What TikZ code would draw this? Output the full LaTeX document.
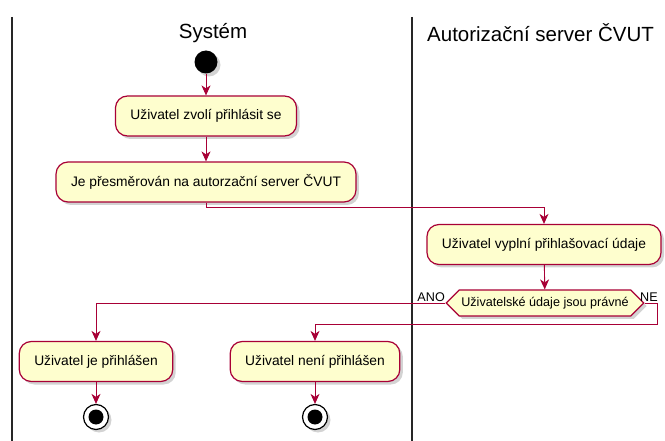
\documentclass[tikz,border=0pt]{standalone}
\usepackage{fontspec}
\setmainfont{Liberation Sans}
\usetikzlibrary{arrows.meta,shapes.symbols,shadows}
\definecolor{umlred}{HTML}{A80036}
\definecolor{umlfill}{HTML}{FEFECE}
\begin{document}
\begin{tikzpicture}[x=1pt,y=-1pt]
            \tikzstyle{every node}=[inner sep=0pt]
            \tikzstyle{lane}=[line width=1.5pt,black!85]
            \tikzstyle{title}=[font=\fontsize{20.5}{24}\selectfont]
            \tikzstyle{shade}=[drop shadow={opacity=0.35,shadow xshift=3pt,shadow yshift=-3pt}]
            \tikzstyle{action}=[draw=umlred,line width=1.2pt,fill=umlfill,rounded corners=12pt,
                inner xsep=15pt,minimum height=40pt,shade,font=\fontsize{13.8}{16}\selectfont]
            \tikzstyle{decision}=[draw=umlred,line width=1.2pt,fill=umlfill,shape=signal,
                signal to=west and east,signal pointer angle=90,minimum width=196pt,
                minimum height=26pt,inner xsep=2pt,shade,font=\fontsize{12.6}{14}\selectfont]
            \tikzstyle{lbl}=[font=\fontsize{12.6}{14}\selectfont]
            \tikzstyle{startnode}=[circle,fill=black,minimum size=23pt,shade]
            \tikzstyle{stopnode}=[circle,draw=black,line width=1.2pt,fill=white,minimum size=25pt,shade]
            \tikzstyle{flow}=[umlred,line width=0.9pt,-{Stealth[length=10pt,width=9pt,inset=3pt]}]
            \useasboundingbox (0,0) rectangle (665,441);
            % swimlanes
            \draw[lane] (12,17) -- (12,441);
            \draw[lane] (412,17) -- (412,441);
            \draw (213,33) node [title] (t1) {Systém};
            \draw (427,33) node [title,anchor=west] (t2) {Autorizační server ČVUT};
            % activities
            \draw (206,62) node [startnode] (s) {};
            \draw (206,116) node [action] (a1) {Uživatel zvolí přihlásit se};
            \draw (206,182) node [action] (a2) {Je přesměrován na autorzační server ČVUT};
            \draw (544,244.5) node [action] (a3) {Uživatel vyplní přihlašovací údaje};
            \draw (545,303) node [decision] (d) {Uživatelské údaje jsou právné};
            \draw (96,361.5) node [action] (a4) {Uživatel je přihlášen};
            \draw (315,361.5) node [action] (a5) {Uživatel není přihlášen};
            \draw (96,417) node [stopnode] (e1) {};
            \draw (315,417) node [stopnode] (e2) {};
            \fill (e1) circle (7.5pt);
            \fill (e2) circle (7.5pt);
            \draw (445,297) node [lbl,anchor=east] (ano) {ANO};
            \draw (640,297) node [lbl,anchor=west] (ne) {NE};
            \coordinate (back) at (657,324);
            % flows
            \draw[flow] (s) -- (a1);
            \draw[flow] (a1) -- (a2);
            \draw[flow] (a2.south) -- ++(0,5) -| (a3.north);
            \draw[flow] (a3) -- (d);
            \draw[flow] (d.west) -| (a4.north);
            \draw[flow] (d.east) -| (back) -| (a5.north);
            \draw[flow] (a4) -- (e1);
            \draw[flow] (a5) -- (e2);
        \end{tikzpicture}
\end{document}
